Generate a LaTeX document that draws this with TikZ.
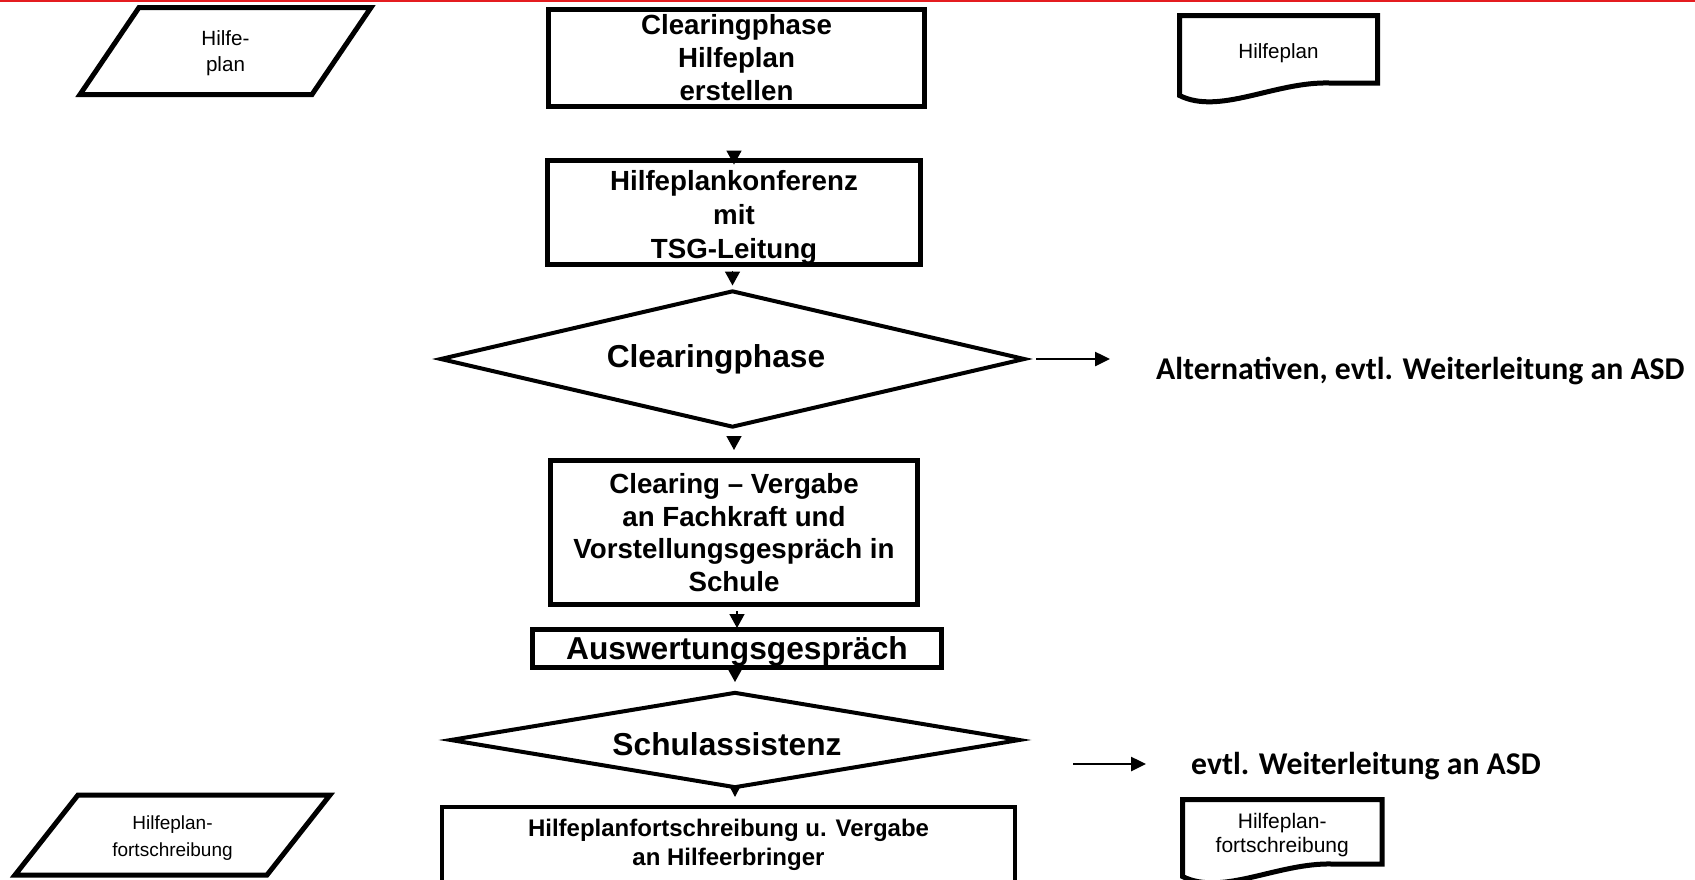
\documentclass[tikz,border=0pt]{standalone}
\usepackage{fontspec}
\setmainfont{Liberation Sans}
\newfontfamily\calib{Carlito}
\usetikzlibrary{shapes.geometric,arrows.meta,calc}
\definecolor{topred}{RGB}{228,28,32}
\begin{document}
\begin{tikzpicture}[x=1pt,y=-1pt,
  procbox/.style={draw, line width=5pt, rectangle, inner sep=0pt, align=center, font=\bfseries\fontsize{27.7}{33}\selectfont},
  decbox/.style={draw, line width=4pt, diamond, inner sep=0pt, font=\bfseries\fontsize{31.7}{38}\selectfont},
  plainbox/.style={rectangle, inner sep=0pt, outer sep=0pt, align=center},
  shapeline/.style={line width=5pt, line join=miter},
  arr/.style={line width=1.5pt, -{Triangle[length=14pt,width=15pt]}},
  sidearr/.style={line width=2.5pt, -{Triangle[length=15pt,width=14pt]}},
  sidetext/.style={font=\calib\bfseries\fontsize{31.7}{38}\selectfont, inner sep=0pt, anchor=base west}
]
\useasboundingbox (0,0) rectangle (1695,879);
\clip (0,0) rectangle (1695,879);
\fill[white] (0,0) rectangle (1695,879);
\draw[topred, line width=2.4pt] (0,0.8) -- (1695,0.8);

% top row
\node[plainbox, font=\fontsize{20.6}{25.5}\selectfont, minimum width=291pt, minimum height=87pt] (ip1) at (225.5,51) {\rule{0pt}{19.5pt}Hilfe-\\plan};
\draw[shapeline] ($(ip1.north west)+(59,0)$) -- (ip1.north east) -- ($(ip1.south east)+(-59,0)$) -- (ip1.south west) -- cycle;

\node[procbox, minimum width=376pt, minimum height=97.5pt] (b1) at (736.5,57.75) {Clearingphase\\Hilfeplan\\erstellen};

\node[plainbox, minimum width=198pt, minimum height=67.5pt, font=\fontsize{20.6}{24}\selectfont] (doc1) at (1278.5,49.25) {\rule{0pt}{22pt}Hilfeplan};
\draw[shapeline] (doc1.north west) -- (doc1.north east) -- (doc1.south east) -- ($(doc1.south west)+(150,0)$) .. controls ($(doc1.south west)+(95,-1.5)$) and ($(doc1.south west)+(40,32.5)$) .. ($(doc1.south west)+(0,12.5)$) -- cycle;

\node[procbox, font=\bfseries\fontsize{27.7}{34}\selectfont, minimum width=373pt, minimum height=102pt] (b2) at (734,212.5) {\rule{0pt}{30pt}Hilfeplankonferenz\\mit\\TSG-Leitung};

\node[decbox, aspect=4.4, minimum width=585pt, minimum height=137pt] (d1) at (732.5,359) {Clearingphase\hspace*{33pt}};
\node[sidetext] (alt) at (1156,379) {Alternativen, evtl. Weiterleitung an ASD};

\node[procbox, font=\bfseries\fontsize{27.7}{32.5}\selectfont, minimum width=367pt, minimum height=144pt] (b3) at (734,532.5) {Clearing – Vergabe\\an Fachkraft und\\Vorstellungsgespräch in\\Schule};

\node[procbox, font=\bfseries\fontsize{31.7}{38}\selectfont, text depth=0pt, minimum width=409pt, minimum height=38pt] (b4) at (737,648.5) {Auswertungsgespräch};

\node[decbox, aspect=6.0, minimum width=570pt, minimum height=96pt, text height=31pt, text depth=0pt] (d2) at (735,740) {Schulassistenz\hspace*{16pt}};
\node[sidetext] (weit) at (1191,774) {evtl. Weiterleitung an ASD};

\node[plainbox, font=\fontsize{19}{27}\selectfont, minimum width=315pt, minimum height=80pt] (ip2) at (172.5,835) {\rule{0pt}{19pt}Hilfeplan-\\fortschreibung};
\draw[shapeline] ($(ip2.north west)+(63,0)$) -- (ip2.north east) -- ($(ip2.south east)+(-63,0)$) -- (ip2.south west) -- cycle;

\node[procbox, line width=4pt, font=\bfseries\fontsize{24}{29}\selectfont, minimum width=573pt, minimum height=76pt] (b5) at (728.5,845) {Hilfeplanfortschreibung u. Vergabe\\an Hilfeerbringer};

\node[plainbox, minimum width=199.5pt, minimum height=64.5pt, font=\fontsize{21}{24}\selectfont] (doc2) at (1282.25,831.75) {\rule{0pt}{22.5pt}Hilfeplan-\\fortschreibung};
\draw[shapeline] (doc2.north west) -- (doc2.north east) -- (doc2.south east) -- ($(doc2.south west)+(150,0)$) .. controls ($(doc2.south west)+(95,-1.5)$) and ($(doc2.south west)+(40,32.5)$) .. ($(doc2.south west)+(0,12.5)$) -- cycle;

% connectors
\draw[arr, shorten <=43pt, shorten >=-6.5pt] (b2.north |- b1.south) -- (b2.north);
\draw[arr, shorten <=4pt, shorten >=3pt] (d1.north |- b2.south) -- (d1.north);
\draw[arr, shorten <=8pt, shorten >=8pt] (b3.north |- d1.south) -- (b3.north);
\draw[arr, shorten <=4pt, shorten >=-1pt] (b4.north |- b3.south) -- (b4.north);
\draw[arr, -{Triangle[length=13pt,width=14pt]}, shorten >=8pt] (d2.north |- b4.south) -- (d2.north);
\draw[arr, -{Triangle[length=10pt,width=10pt]}, shorten >=8pt] (d2.south) -- (d2.south |- b5.north);

\draw[sidearr, shorten <=9pt, shorten >=46pt] (d1.east) -- (d1.east -| alt.west);
\coordinate (a2s) at (1073,764);
\draw[sidearr, shorten >=45pt] (a2s) -- (a2s -| weit.west);
\end{tikzpicture}
\end{document}
